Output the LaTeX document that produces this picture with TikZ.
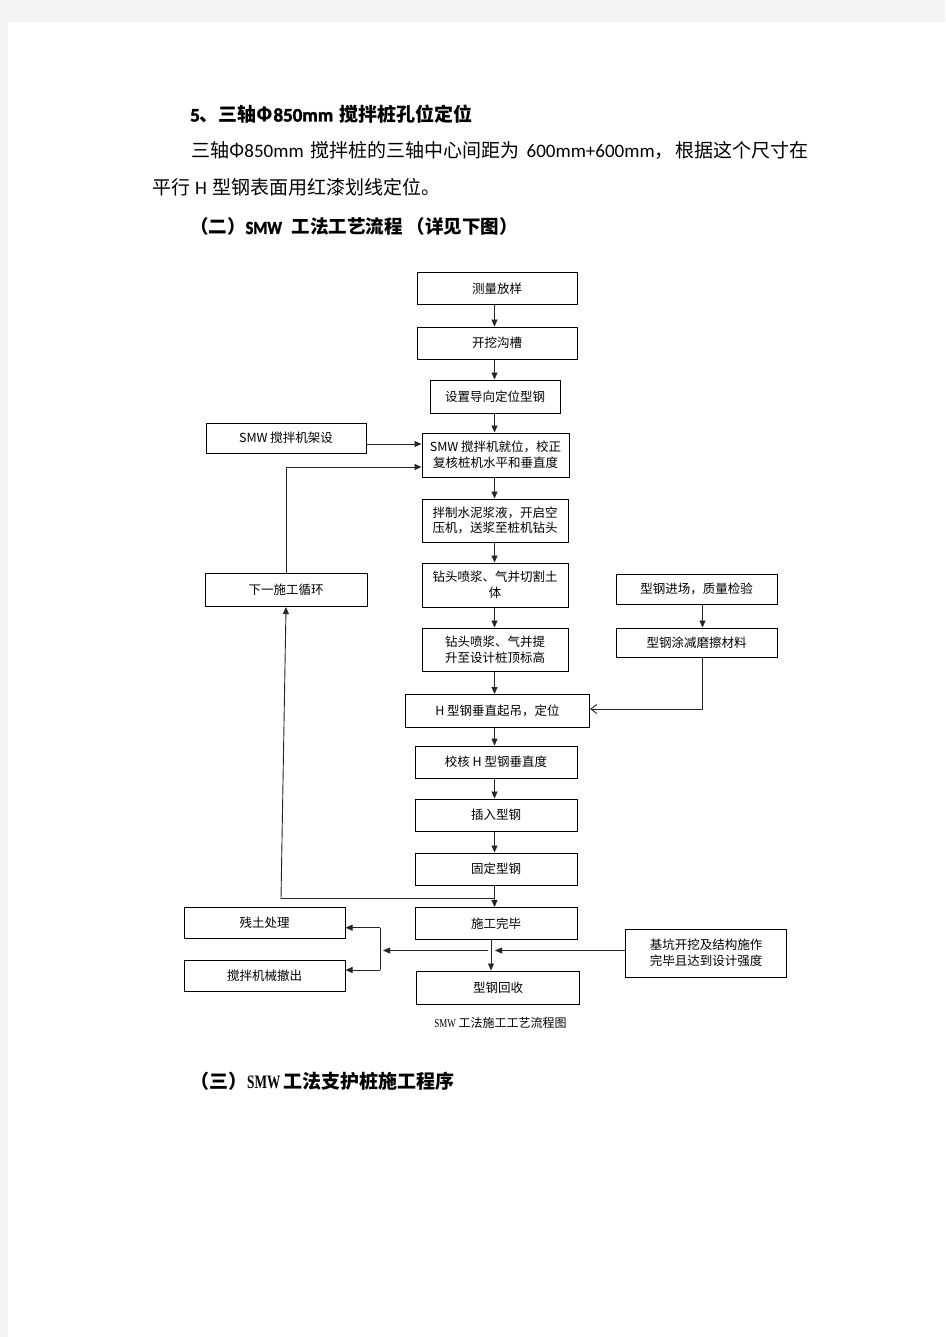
\documentclass[tikz,border=0pt]{standalone}
\usepackage{fontspec}
\setmainfont{Noto Sans CJK SC}
\newfontfamily\lat{Carlito}
\newfontfamily\latb{Carlito}[FakeBold=2]
\newfontfamily\serifl{Liberation Serif}
\usetikzlibrary{arrows.meta,calc}
\newcommand\boxfont{\fontsize{12.5}{15.7}\selectfont}
\newcommand\parafont{\fontsize{19}{19}\selectfont}
\definecolor{pagegray}{HTML}{F4F4F4}
\begin{document}
\begin{tikzpicture}[x=1pt,y=-1pt,
  box/.style={draw=black, line width=1pt, inner sep=0pt, align=center, font=\boxfont},
  arr/.style={-{Triangle[length=7pt,width=6pt]}, line width=0.9pt, draw=black!85},
  barb/.style={-{Straight Barb[length=6pt,width=9pt]}, line width=0.9pt, draw=black!85},
  ln/.style={line width=0.9pt, draw=black!85},
  para/.style={anchor=base west, inner sep=0pt, font=\parafont}]
\useasboundingbox (0,0) rectangle (945,1337);
\fill[pagegray] (0,0) rectangle (945,1337);
\fill[white] (8,22) rectangle (945,1337);

% paragraph text
\node[para] (t1) at (190,121.5) {\bfseries {\latb 5}、三轴Φ{\latb 850mm}\hspace{6pt}搅拌桩孔位定位};
\node[para] (t2) at (191,157.5) {三轴Φ{\lat 850mm}\hspace{7pt}搅拌桩的三轴中心间距为\hspace{7pt}{\lat 600mm+600mm}，\hspace{2pt}根据这个尺寸在};
\node[para] (t3) at (152,195) {平行\hspace{5pt}{\lat H}\hspace{5pt}型钢表面用红漆划线定位。};
\node[para, font=\fontsize{18.5}{18.5}\selectfont] (t4) at (190,234) {\bfseries （二）\scalebox{0.87}[1]{\latb SMW}\hspace{10pt}工法工艺流程\hspace{4pt}（详见下图）};
\node[para] (t5) at (190,1088) {\bfseries （三）{\serifl\bfseries\scalebox{0.7}[1]{SMW}}\hspace{3pt}工法支护桩施工程序};

% boxes
\node[box, minimum width=160pt, minimum height=31pt] (n1) at (497,288.5) {测量放样};
\node[box, minimum width=160pt, minimum height=32pt] (n2) at (497,343) {开挖沟槽};
\node[box, minimum width=130pt, minimum height=33pt] (n3) at (495,396.5) {设置导向定位型钢};
\node[box, minimum width=160pt, minimum height=30pt] (n4) at (286,438) {SMW 搅拌机架设};
\node[box, minimum width=147pt, minimum height=44pt] (n5) at (495.5,455) {SMW 搅拌机就位，校正\\复核桩机水平和垂直度};
\node[box, minimum width=146pt, minimum height=43pt] (n6) at (495,520.5) {拌制水泥浆液，开启空\\压机，送浆至桩机钻头};
\node[box, minimum width=146pt, minimum height=44pt] (n7) at (495,585) {钻头喷浆、气并切割土\\体};
\node[box, minimum width=146pt, minimum height=43pt] (n8) at (495,649.5) {钻头喷浆、气并提\\升至设计桩顶标高};
\node[box, minimum width=184pt, minimum height=33pt] (n9) at (497.5,711) {H 型钢垂直起吊，定位};
\node[box, minimum width=162pt, minimum height=32pt] (n10) at (496,762) {校核 H 型钢垂直度};
\node[box, minimum width=162pt, minimum height=32pt] (n11) at (496,815) {插入型钢};
\node[box, minimum width=162pt, minimum height=32pt] (n12) at (496,869) {固定型钢};
\node[box, minimum width=162pt, minimum height=32pt] (n13) at (496,923.5) {施工完毕};
\node[box, minimum width=163pt, minimum height=33pt] (n14) at (498,987.5) {型钢回收};
\node[box, minimum width=162pt, minimum height=33pt] (n15) at (286,590) {下一施工循环};
\node[box, minimum width=161pt, minimum height=30pt] (n16) at (696.5,589) {型钢进场，质量检验};
\node[box, minimum width=161pt, minimum height=29pt] (n17) at (696.5,642.5) {型钢涂减磨擦材料};
\node[box, minimum width=161pt, minimum height=31pt] (n18) at (264.5,923) {残土处理};
\node[box, minimum width=161pt, minimum height=31pt] (n19) at (264.5,975.5) {搅拌机械撤出};
\node[box, minimum width=161pt, minimum height=48pt] (n20) at (706,953) {基坑开挖及结构施作\\完毕且达到设计强度};

% caption
\node[anchor=base, inner sep=0pt, font=\fontsize{12}{12}\selectfont] (cap) at (500.5,1027) {{\serifl\scalebox{0.75}[1]{SMW}} 工法施工工艺流程图};

% main column connectors
\coordinate (cx) at (494.5,0);
\foreach \a/\b in {n1/n2,n2/n3,n3/n5,n5/n6,n6/n7,n7/n8,n8/n9,n9/n10,n10/n11,n11/n12,n12/n13}
  \draw[arr] (\a.south -| cx) -- (\b.north -| cx);

% SMW rig set-up
\coordinate (a4) at ([yshift=-6pt]n4.east);
\draw[arr] (a4) -- (a4 -| n5.west);

% loop back
\coordinate (a5) at ([yshift=-12pt]n5.west);
\draw[arr] (n15.north) |- (a5);
\coordinate (lj) at (494.5,898.5);
\coordinate (lb) at (281,898.5);
\draw[arr] (lj) -- (lb) -- (n15.south);

% steel preparation
\draw[arr] ([xshift=6pt]n16.south) -- ([xshift=6pt]n17.north);
\draw[barb] ([xshift=6pt]n17.south) |- ([yshift=2pt]n9.east);

% bottom part
\coordinate (bx) at (491,950.5);
\draw[arr] (n13.south -| bx) -- (n14.north -| bx);
\draw[arr] (n20.west |- bx) -- ([xshift=4pt]bx);
\coordinate (brk) at (380,950.5);
\draw[arr] ([xshift=-3pt]bx) -- ([xshift=3pt]brk);
\coordinate (bt) at (380,927.7);
\coordinate (bb) at (380,970);
\draw[ln] (bt) -- (bb);
\draw[arr] (bt) -- (bt -| n18.east);
\draw[arr] (bb) -- (bb -| n19.east);
\end{tikzpicture}
\end{document}
